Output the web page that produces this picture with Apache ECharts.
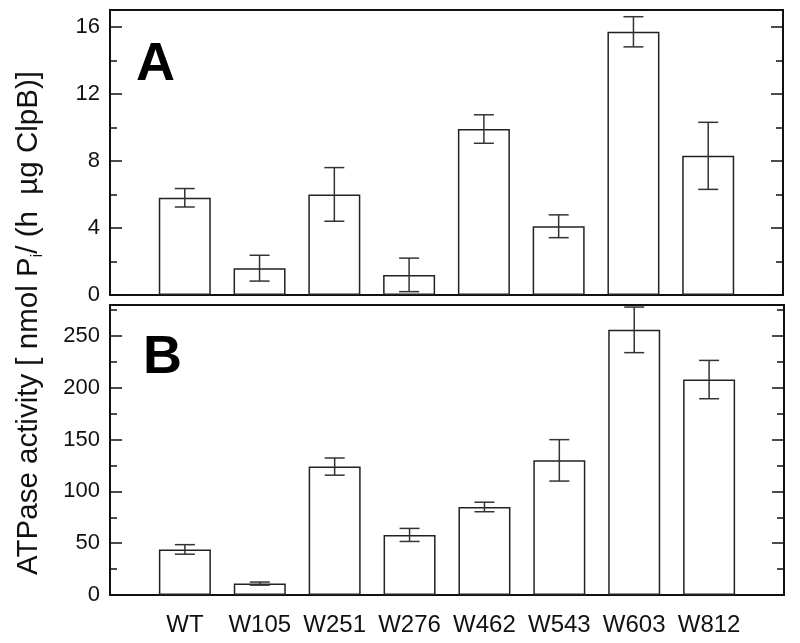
<!DOCTYPE html>
<html><head><meta charset="utf-8">
<script src="https://cdn.jsdelivr.net/npm/echarts@6/dist/echarts.min.js"></script>
<style>html,body{margin:0;padding:0;background:#fff}#c{width:800px;height:643px}</style>
</head><body><div id="c"></div>
<script>
const categories = ['WT','W105','W251','W276','W462','W543','W603','W812'];
const aValues = [5.8, 1.6, 6.0, 1.2, 9.9, 4.1, 15.7, 8.3];
const aErrors = [0.55, 0.77, 1.6, 1.0, 0.85, 0.68, 0.9, 2.0];
const bValues = [44, 11, 124, 58, 85, 130, 256, 208];
const bErrors = [4.6, 1.5, 8.3, 6.3, 4.6, 20, 22, 18.5];
const aTicks = [0, 4, 8, 12, 16];
const bTicks = [0, 50, 100, 150, 200, 250];

const FONT = 'Liberation Sans, Arial, sans-serif';
const xCats = [''].concat(categories, ['']);
function pad(arr){ return ['-'].concat(arr, ['-']); }
function errData(vals, errs){ return vals.map((v,i)=>[i+1, v-errs[i], v+errs[i]]); }

function errRender(params, api){
  const x = api.value(0);
  const lo = api.coord([x, api.value(1)]);
  const hi = api.coord([x, api.value(2)]);
  const w = 10;
  const st = {stroke:'#333', lineWidth:1.5};
  return {type:'group', children:[
    {type:'line', shape:{x1:lo[0],y1:lo[1],x2:hi[0],y2:hi[1]}, style:st},
    {type:'line', shape:{x1:lo[0]-w,y1:lo[1],x2:lo[0]+w,y2:lo[1]}, style:st},
    {type:'line', shape:{x1:hi[0]-w,y1:hi[1],x2:hi[0]+w,y2:hi[1]}, style:st}
  ]};
}

function yAx(gi, max, interval, ticks, pos, showLabels){
  return {
    type:'value', gridIndex:gi, min:0, max:max, interval:interval, position:pos,
    axisLine:{show:true, lineStyle:{color:'#111', width:2}},
    axisTick:{show:true, inside:true, length:12, lineStyle:{color:'#111', width:1.5}},
    minorTick:{show:true, splitNumber:2, length:7, lineStyle:{color:'#111', width:1.5}},
    splitLine:{show:false},
    axisLabel:{show:showLabels, fontSize:22, color:'#111', fontFamily:FONT, margin:10,
      formatter: v => ticks.indexOf(v) >= 0 ? String(v) : ''}
  };
}
function xAx(gi, showLabels){
  return {
    type:'category', gridIndex:gi, data:xCats, boundaryGap:false,
    axisLine:{show:true, lineStyle:{color:'#111', width:2}},
    axisTick:{show:false},
    axisLabel:{show:showLabels, interval:0, fontSize:24, color:'#111', fontFamily:FONT, margin:18},
    splitLine:{show:false}
  };
}

const chart = echarts.init(document.getElementById('c'), null, {renderer:'canvas'});
chart.setOption({
  animation:false,
  backgroundColor:'#fff',
  grid:[
    {left:110, top:10, width:673, height:285, show:true, borderColor:'#111', borderWidth:2, backgroundColor:'transparent'},
    {left:110, top:305, width:674, height:290, show:true, borderColor:'#111', borderWidth:2, backgroundColor:'transparent'}
  ],
  xAxis:[xAx(0,false), xAx(1,true)],
  yAxis:[
    yAx(0, 17, 4, aTicks, 'left', true),
    yAx(0, 17, 4, aTicks, 'right', false),
    yAx(1, 280, 50, bTicks, 'left', true),
    yAx(1, 280, 50, bTicks, 'right', false)
  ],
  series:[
    {type:'bar', xAxisIndex:0, yAxisIndex:0, data:pad(aValues), barWidth:52,
     itemStyle:{color:'#fff', borderColor:'#222', borderWidth:1.5}},
    {type:'custom', xAxisIndex:0, yAxisIndex:0, data:errData(aValues,aErrors), renderItem:errRender, clip:true, z:5},
    {type:'bar', xAxisIndex:1, yAxisIndex:2, data:pad(bValues), barWidth:52,
     itemStyle:{color:'#fff', borderColor:'#222', borderWidth:1.5}},
    {type:'custom', xAxisIndex:1, yAxisIndex:2, data:errData(bValues,bErrors), renderItem:errRender, clip:true, z:5}
  ],
  graphic:[
    {type:'text', left:136, top:38, style:{text:'A', font:'bold 54px '+FONT, fill:'#000'}},
    {type:'text', left:143, top:331, style:{text:'B', font:'bold 54px '+FONT, fill:'#000'}},
    {type:'text', x:29, y:323, rotation:Math.PI/2,
     style:{text:'ATPase activity [ nmol P{s|i}/ (h  µg ClpB)]', font:'29.5px '+FONT, fill:'#111',
       align:'center', verticalAlign:'middle',
       rich:{s:{fontSize:17, fontFamily:FONT, fill:'#111', padding:[17,0,0,0]}}}}
  ]
});
</script></body></html>
